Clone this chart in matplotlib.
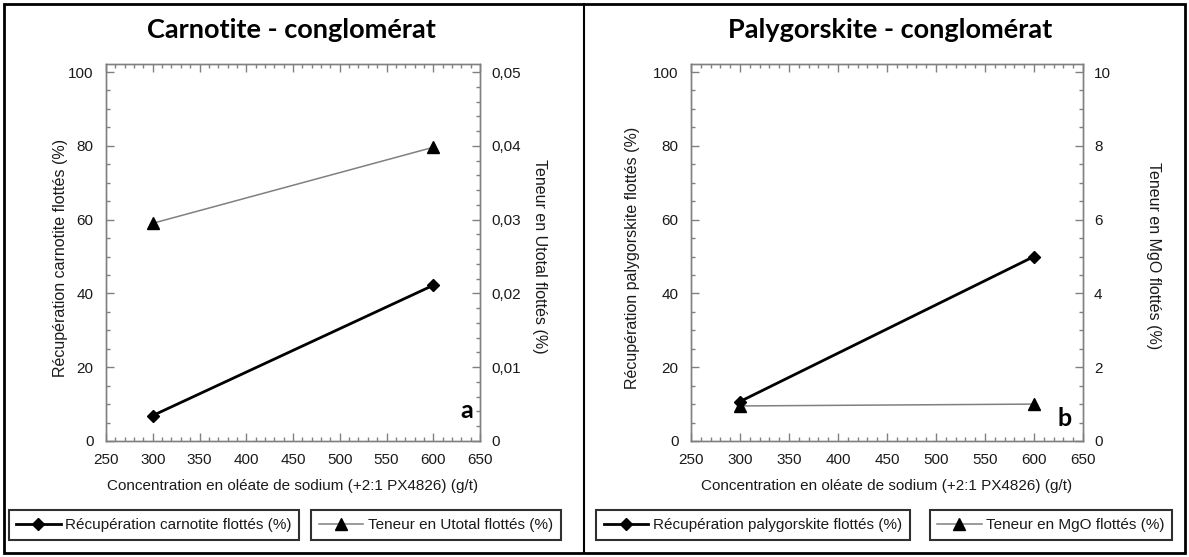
import matplotlib.pyplot as plt
from matplotlib.ticker import MultipleLocator, FuncFormatter
from matplotlib.lines import Line2D
from matplotlib.patches import Rectangle

# Dosage (g/t) and flotation results
conc = [300, 600]
recup_carnotite = [6.9, 42.2]
teneur_utotal = [0.0295, 0.0398]
recup_palygorskite = [10.7, 50.0]
teneur_mgo = [0.95, 1.0]

x_label = "Concentration en oléate de sodium (+2:1 PX4826) (g/t)"

plt.rcParams['font.family'] = ['Liberation Sans', 'DejaVu Sans']

W, H = 1189, 557
fig = plt.figure(figsize=(W / 100, H / 100), dpi=100)

GRAY = '#808080'
TXT = '#1a1a1a'


def comma(v, pos):
    return ('%g' % round(v, 4)).replace('.', ',')


def px(x0, y0, x1, y1):
    # pixel box (top-left origin) -> figure fraction rect
    return [x0 / W, 1 - y1 / H, (x1 - x0) / W, (y1 - y0) / H]


def panel(rect, rec, ten, ymax2, minor2, labels, titre, lettre, lettre_xy,
          ylab_x, ylab2_x, title_x, leg_pos):
    ax = fig.add_axes(px(*rect))
    ax2 = ax.twinx()
    ax.set_zorder(ax2.get_zorder() + 1)
    ax.patch.set_visible(False)

    l2, = ax2.plot(conc, ten, color='#808080', lw=1.1, marker='^', ms=8,
                   mfc='black', mec='black', label=labels[1])
    l1, = ax.plot(conc, rec, color='black', lw=2.0, marker='D', ms=6.5,
                  mfc='black', mec='black', label=labels[0])

    ax.set_xlim(250, 650)
    ax.set_ylim(0, 102.17)
    ax2.set_ylim(0, ymax2 * 1.0217)

    ax.xaxis.set_major_locator(MultipleLocator(50))
    ax.xaxis.set_minor_locator(MultipleLocator(10))
    ax.yaxis.set_major_locator(MultipleLocator(20))
    ax.yaxis.set_minor_locator(MultipleLocator(5))
    ax2.yaxis.set_major_locator(MultipleLocator(ymax2 / 5))
    ax2.yaxis.set_minor_locator(MultipleLocator(minor2))
    ax2.yaxis.set_major_formatter(FuncFormatter(comma))

    for a in (ax, ax2):
        for s in a.spines.values():
            s.set_color(GRAY)
            s.set_linewidth(1.0)
    ax.tick_params(which='both', direction='in', top=True, right=False,
                   color=GRAY, labelcolor=TXT, labelsize=11, width=1.0)
    ax.tick_params(which='major', length=6)
    ax.tick_params(which='minor', length=3)
    ax.tick_params(axis='x', pad=9)
    ax.tick_params(axis='y', pad=9)
    ax2.tick_params(which='both', direction='in', color=GRAY, labelcolor=TXT,
                    labelsize=11, width=1.0, pad=8)
    ax2.tick_params(which='major', length=6)
    ax2.tick_params(which='minor', length=3)

    ax.set_xlabel(x_label, fontsize=11, color=TXT, labelpad=8)
    fig.text(ylab_x / W, 1 - 258 / H, labels[0], rotation=90,
             ha='center', va='center', fontsize=11.5, color=TXT)
    fig.text(ylab2_x / W, 1 - 256 / H, labels[1], rotation=-90,
             ha='center', va='center', fontsize=11.5, color=TXT)

    fig.text(title_x / W, 1 - 30 / H, titre, fontsize=19.5, fontweight='bold',
             family='Lato', ha='center', va='center', color='black')
    fig.text(lettre_xy[0] / W, 1 - lettre_xy[1] / H, lettre, fontsize=18,
             fontweight='bold', family='Lato', ha='center', va='baseline')

    for h, (cx, cy) in zip((l1, l2), leg_pos):
        leg = fig.legend(handles=[h], loc='center',
                         bbox_to_anchor=(cx / W, 1 - cy / H),
                         fontsize=11, frameon=True, fancybox=False,
                         edgecolor='#303030', framealpha=1, borderpad=0.5,
                         handlelength=2.9, handletextpad=0.3, labelcolor=TXT)
        leg.get_frame().set_linewidth(1.5)
    return ax, ax2


panel((106, 64, 480, 441), recup_carnotite, teneur_utotal, 0.05, 0.002,
      ['Récupération carnotite flottés (%)', 'Teneur en Utotal flottés (%)'],
      'Carnotite - conglomérat', 'a', (467, 418), 60, 540, 291,
      [(154, 525), (436, 525)])

panel((691, 64, 1083, 441), recup_palygorskite, teneur_mgo, 10, 0.5,
      ['Récupération palygorskite flottés (%)', 'Teneur en MgO flottés (%)'],
      'Palygorskite - conglomérat', 'b', (1065, 426), 633, 1153, 890,
      [(753, 525), (1051, 525)])

# outer frame and the divider between the two panels
fig.add_artist(Rectangle((4 / W, 4 / H), (W - 8) / W, (H - 8) / H,
                         transform=fig.transFigure, fill=False,
                         edgecolor='black', lw=2.0))
fig.add_artist(Line2D([584 / W, 584 / W], [4 / H, 1 - 4 / H],
                      transform=fig.transFigure, color='black', lw=1.5))

fig.savefig('out.png', dpi=100)
